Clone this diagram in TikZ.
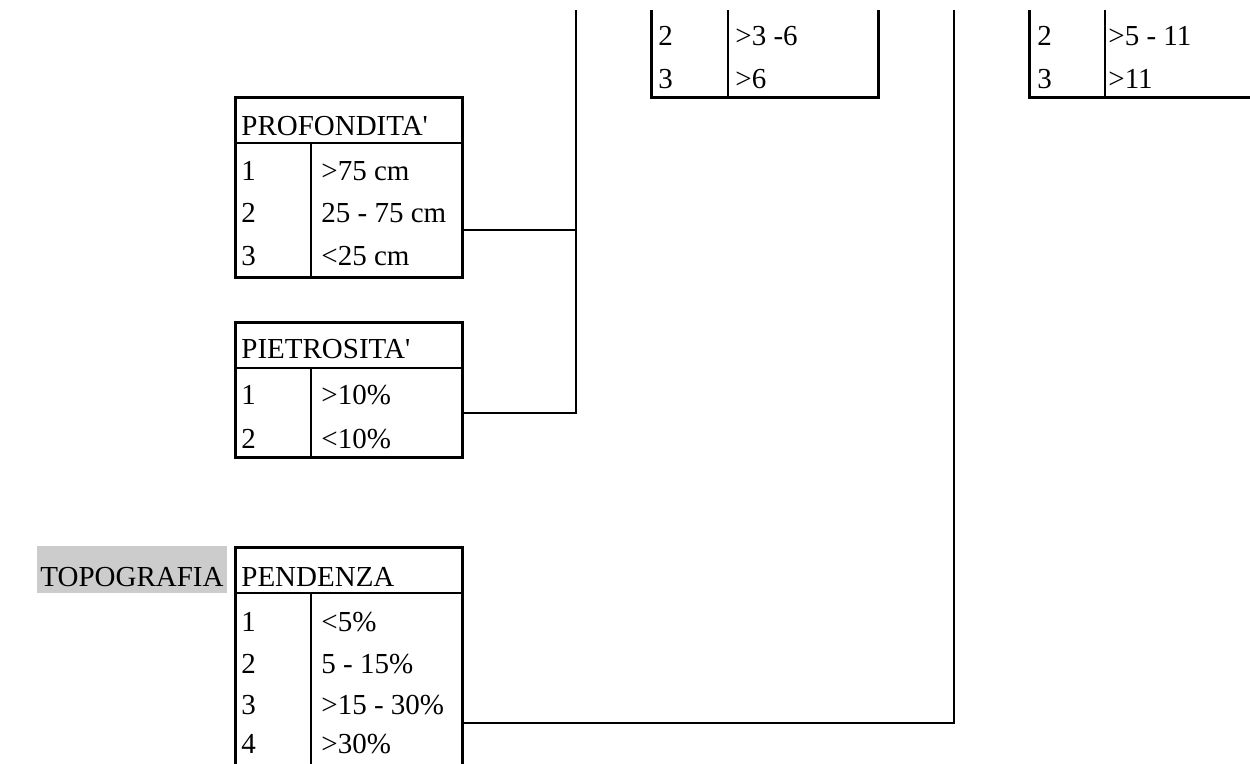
\documentclass[tikz,border=0pt]{standalone}
\usepackage{fontspec}
\setmainfont{Liberation Serif}
\usetikzlibrary{positioning}

\definecolor{band}{RGB}{204,204,204}

\begin{document}
\begin{tikzpicture}[x=0.5pt,y=-0.5pt,
		frame/.style={line width=1.7pt},
		rule/.style={line width=1pt},
		link/.style={line width=1pt},
		cell/.style={anchor=base west,inner sep=0pt,font=\fontsize{14.5}{17}\selectfont}]
		\useasboundingbox (0,0) rectangle (1250,764);
		\clip (0,0) rectangle (1250,764);
		
		% tables cut by the top edge
		\draw[frame] (651.5,10) -- (651.5,97.5) -- (878.5,97.5) -- (878.5,10);
		\draw[rule] (727.5,10) -- (727.5,97.5);
		\node[cell] (cla2) at (658,46) {2};
		\node[cell] (cla2v) at (735,46) {>3 -6};
		\node[cell] (cla3) at (658,89) {3};
		\node[cell] (cla3v) at (735,89) {>6};
		
		\draw[frame] (1029.5,10) -- (1029.5,97.5) -- (1260,97.5);
		\draw[rule] (1105,10) -- (1105,97.5);
		\node[cell] (clb2) at (1037,46) {2};
		\node[cell] (clb2v) at (1108,46) {>5 - 11};
		\node[cell] (clb3) at (1037,89) {3};
		\node[cell] (clb3v) at (1108,89) {>11};
		
		% profondita'
		\draw[frame] (235.5,97.5) rectangle (462.5,277.5);
		\draw[rule] (235.5,143) -- (462.5,143);
		\draw[rule] (310.5,143) -- (310.5,277.5);
		\node[cell] (prof) at (241,136) {PROFONDITA\textquotesingle};
		\foreach \n/\v/\y in {1/{>75 cm}/181, 2/{25 - 75 cm}/223, 3/{<25 cm}/266} {
			\node[cell] (prof\n) at (241,\y) {\n};
			\node[cell] (profv\n) at (321,\y) {\v};
		}
		\coordinate (prof-out) at (462.5,230);
		
		% pietrosita'
		\draw[frame] (235.5,322.5) rectangle (462.5,457.5);
		\draw[rule] (235.5,368) -- (462.5,368);
		\draw[rule] (310.5,368) -- (310.5,457.5);
		\node[cell] (piet) at (241,359) {PIETROSITA\textquotesingle};
		\foreach \n/\v/\y in {1/{>10\%}/405, 2/{<10\%}/449} {
			\node[cell] (piet\n) at (241,\y) {\n};
			\node[cell] (pietv\n) at (321,\y) {\v};
		}
		\coordinate (piet-out) at (462.5,413);
		
		% topografia / pendenza
		\fill[band] (37,546) rectangle (227,593);
		\node[cell] (topo) at (40,587) {TOPOGRAFIA};
		\draw[frame] (235.5,547.5) rectangle (462.5,800);
		\draw[rule] (235.5,593) -- (462.5,593);
		\draw[rule] (310.5,593) -- (310.5,800);
		\node[cell] (pend) at (241,587) {PENDENZA};
		\foreach \n/\v/\y in {1/{<5\%}/632, 2/{5 - 15\%}/674, 3/{>15 - 30\%}/715, 4/{>30\%}/754} {
			\node[cell] (pend\n) at (241,\y) {\n};
			\node[cell] (pendv\n) at (321,\y) {\v};
		}
		\coordinate (pend-out) at (462.5,723);
		
		% links
		\coordinate (busa) at (576,10);
		\coordinate (busb) at (954,10);
		\draw[link] (busa) |- (piet-out);
		\draw[link] (prof-out) -- (prof-out -| busa);
		\draw[link] (busb) |- (pend-out);
\end{tikzpicture}
\end{document}
